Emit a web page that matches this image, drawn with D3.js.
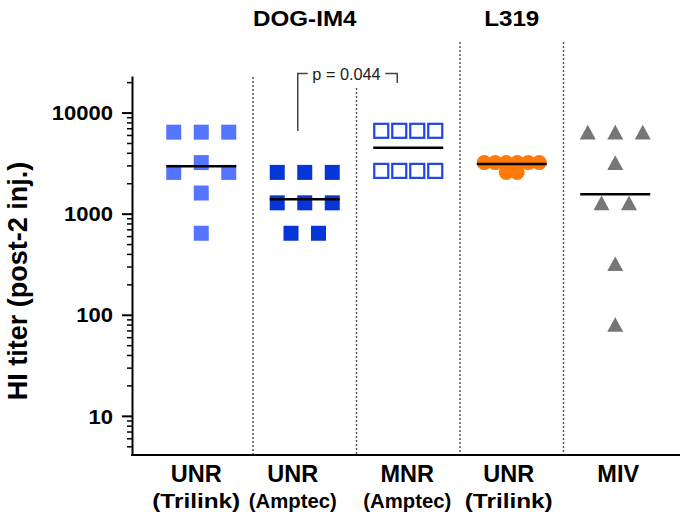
<!DOCTYPE html>
<html><head><meta charset="utf-8">
<script src="https://cdn.jsdelivr.net/npm/d3@7/dist/d3.min.js"></script>
<style>body{margin:0;background:#fff}svg{display:block}text{font-family:"Liberation Sans",Arial,sans-serif}</style>
</head><body>
<script>
// ---- data ----
const catLine1 = ["UNR", "UNR", "MNR", "UNR", "MIV"];
const catLine2 = ["(Trilink)", "(Amptec)", "(Amptec)", "(Trilink)", ""];
const unrTrilinkDog = [6400, 6400, 6400, 3200, 2560, 2560, 1600, 640];
const unrAmptecDog  = [2560, 2560, 2560, 1280, 1280, 1280, 640, 640];
const mnrAmptecDog  = [6600, 6600, 6600, 6600, 2650, 2650, 2650, 2650];
const unrTrilinkL319 = [3200, 3200, 3200, 3200, 3200, 3200, 2560, 2560];
const miv = [6400, 6400, 6400, 3200, 1280, 1280, 320, 80];
const geoMeans = [2940, 1390, 4500, 3100, 1560];
const majorTicks = [10, 100, 1000, 10000];
const minorTicks = [5,6,7,8,9,20,30,40,50,60,70,80,90,200,300,400,500,600,700,800,900,
                    2000,3000,4000,5000,6000,7000,8000,9000,20000];
const headers = ["DOG-IM4", "L319"];
const headerCats = [1, 3];
const pLabel = "p = 0.044";
const yTitle = "HI titer (post-2 inj.)";

const series = [unrTrilinkDog, unrAmptecDog, mnrAmptecDog, unrTrilinkL319, miv];

// ---- styles ----
const W = 688, H = 517;
const FONT = '"Liberation Sans",Arial,sans-serif';
const styles = [
  {shape:"square", fill:"#5575ff", stroke:"none", size:15, pitch:27.5, avoid:true},
  {shape:"square", fill:"#0636d8", stroke:"none", size:15, pitch:27.5, avoid:true},
  {shape:"osquare", fill:"none", stroke:"#1f45e8", size:14, pitch:18, avoid:false},
  {shape:"circle", fill:"#ff7a0a", stroke:"none", size:15, pitch:11, avoid:false},
  {shape:"triangle", fill:"#767676", stroke:"none", size:16, pitch:27.5, avoid:true}
];
const labelShift = [-5, -12, -1, -3, 3];

const svg = d3.select("body").append("svg").attr("width", W).attr("height", H);

const y = d3.scaleLog().domain([4.1, 23000]).range([455, 76]);
const x = d3.scaleBand().domain(d3.range(catLine1.length)).range([149.5, 667]);
const cx = i => x(i) + x.bandwidth() / 2;
const AX = 132;

function stext(g, px, py, str, size, sx, anchor, weight, fill) {
  return g.append("g").attr("transform", `translate(${px},${py}) scale(${sx},1)`)
    .append("text").attr("text-anchor", anchor).attr("font-size", size)
    .attr("font-weight", weight).attr("fill", fill || "#000").text(str);
}

// separators
const sepTops = [77, 88, 42, 42];
for (let i = 1; i < catLine1.length; i++) {
  svg.append("line").attr("x1", x(i)).attr("x2", x(i))
    .attr("y1", sepTops[i-1]).attr("y2", 455)
    .attr("stroke", "#555").attr("stroke-width", 1.5).attr("stroke-dasharray", "2,2");
}

// y axis minor
const minorAxis = d3.axisLeft(y).tickValues(minorTicks).tickSize(5).tickFormat("").tickSizeOuter(0);
const gMinor = svg.append("g").attr("transform", `translate(${AX},0)`).call(minorAxis);
gMinor.select(".domain").remove();
gMinor.selectAll("line").attr("stroke", "#000").attr("stroke-width", 1.5);

const majorAxis = d3.axisLeft(y).tickValues(majorTicks).tickSize(10).tickSizeOuter(0)
  .tickFormat(d3.format("d"));
const gMajor = svg.append("g").attr("transform", `translate(${AX},0)`).call(majorAxis);
gMajor.select(".domain").attr("stroke", "#000").attr("stroke-width", 2);
gMajor.selectAll(".tick line").attr("stroke", "#000").attr("stroke-width", 2);
gMajor.selectAll(".tick text")
  .attr("font-family", FONT).attr("font-size", 20).attr("font-weight", "bold").attr("fill", "#000")
  .attr("x", -19 / 1.1).attr("dy", "0.36em")
  .attr("transform", "scale(1.1,1)");

// x baseline
svg.append("line").attr("x1", AX - 1).attr("x2", 680).attr("y1", 455).attr("y2", 455)
  .attr("stroke", "#000").attr("stroke-width", 2);

// category labels
catLine1.forEach((t, i) => {
  const lx = cx(i) + labelShift[i];
  svg.append("text").attr("x", lx).attr("y", 482).attr("text-anchor", "middle")
    .attr("font-size", 23.5).attr("font-weight", "bold").text(t);
  if (catLine2[i]) svg.append("text").attr("x", lx).attr("y", 508).attr("text-anchor", "middle")
    .attr("font-size", 20.5).attr("font-weight", "bold")
    .attr("textLength", 88).attr("lengthAdjust", "spacingAndGlyphs").text(catLine2[i]);
});

// headers
headers.forEach((h, k) => stext(svg, cx(headerCats[k]), 26, h, 22, 1.1, "middle", "bold"));

// y title
svg.append("text").attr("transform", "translate(27,281) rotate(-90)")
  .attr("text-anchor", "middle").attr("font-size", 27).attr("font-weight", "bold").text(yTitle);

// layout points
function layout(vals, st) {
  const placed = [];
  const rows = [];
  vals.forEach(v => { let r = rows.find(r => r.v === v); if (!r) { r = {v, n:0}; rows.push(r); } r.n++; });
  rows.forEach(r => {
    const py = y(r.v);
    let offs = d3.range(r.n).map(i => (i - (r.n - 1) / 2) * st.pitch);
    if (st.avoid) {
      const hit = offs.some(o => placed.some(p => Math.abs(p.o - o) < st.size && Math.abs(p.y - py) < st.size));
      if (hit) {
        const slots = d3.range(r.n + 1).map(i => (i - r.n / 2) * st.pitch).filter(o => Math.abs(o) > 1e-6);
        offs = slots.slice(0, r.n);
      }
    }
    offs.forEach(o => placed.push({o, y: py, v: r.v}));
  });
  return placed;
}

function marker(g, st, px, py) {
  const s = st.size;
  if (st.shape === "square") {
    g.append("rect").attr("x", px - s/2).attr("y", py - s/2).attr("width", s).attr("height", s).attr("fill", st.fill);
  } else if (st.shape === "osquare") {
    g.append("rect").attr("x", px - s/2).attr("y", py - s/2).attr("width", s).attr("height", s)
      .attr("fill", "none").attr("stroke", st.stroke).attr("stroke-width", 2.2);
  } else if (st.shape === "circle") {
    g.append("circle").attr("cx", px).attr("cy", py).attr("r", s/2).attr("fill", st.fill);
  } else {
    const h = 14.6;
    g.append("path").attr("d", `M${px},${py - h/2}L${px + s/2},${py + h/2}L${px - s/2},${py + h/2}Z`).attr("fill", st.fill);
  }
}

series.forEach((vals, i) => {
  const st = styles[i];
  const g = svg.append("g");
  layout(vals, st).forEach(p => marker(g, st, cx(i) + p.o, p.y));
  svg.append("line").attr("x1", cx(i) - 35).attr("x2", cx(i) + 35)
    .attr("y1", y(geoMeans[i])).attr("y2", y(geoMeans[i]))
    .attr("stroke", "#000").attr("stroke-width", 2.5);
});

// p-value bracket
const bx1 = cx(1) - 7, bx2 = cx(2) - 11, by = 73.5;
svg.append("path")
  .attr("d", `M${bx1},131V${by}H${bx1 + 10}M${bx2 - 12},${by}H${bx2}V83`)
  .attr("fill", "none").attr("stroke", "#444").attr("stroke-width", 1.5);
svg.append("text").attr("x", (bx1 + bx2) / 2 - 1).attr("y", 79.5).attr("text-anchor", "middle")
  .attr("font-size", 16.3).attr("fill", "#222").text(pLabel);
</script>
</body></html>
